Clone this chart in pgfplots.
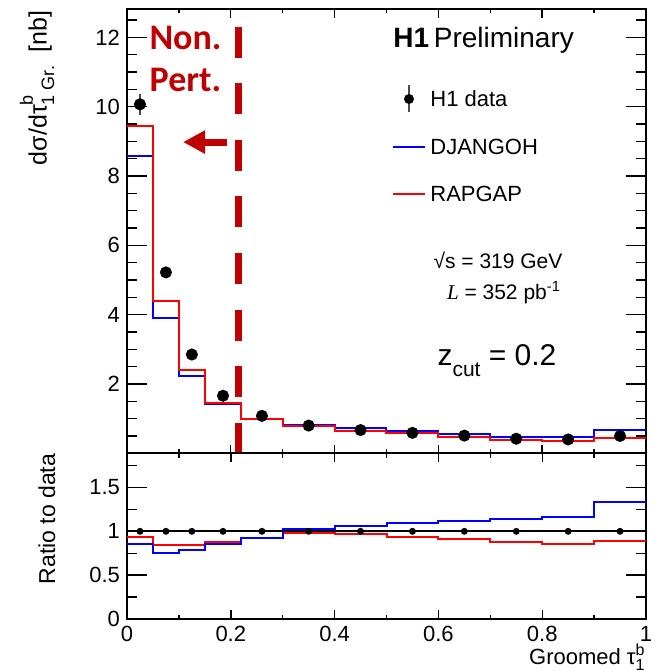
\documentclass[border=0pt]{standalone}
\usepackage{pgfplots}
\pgfplotsset{compat=1.18}
\usetikzlibrary{arrows.meta}
\usepackage{fontspec}
\setmainfont{Liberation Sans}
\newfontfamily\calibri{Carlito}
\newfontfamily\timesf{Liberation Serif}
\definecolor{npred}{RGB}{192,0,0}

% bin edges 0,0.05,0.1,0.15,0.22,0.3,0.4,...,1.0 (last value repeated at x=1)
\pgfplotstableread{
x     dj     rg
0     8.58   9.43
0.05  3.90   4.40
0.10  2.24   2.41
0.15  1.41   1.46
0.22  0.99   0.99
0.30  0.83   0.78
0.40  0.72   0.65
0.50  0.64   0.58
0.60  0.57   0.47
0.70  0.48   0.37
0.80  0.46   0.345
0.90  0.67   0.445
1.00  0.67   0.445
}\mcxs
\pgfplotstableread{
x     dj     rg
0     0.85   0.935
0.05  0.75   0.84
0.10  0.79   0.845
0.15  0.85   0.875
0.22  0.92   0.92
0.30  1.03   0.98
0.40  1.06   0.975
0.50  1.10   0.94
0.60  1.12   0.91
0.70  1.14   0.88
0.80  1.16   0.855
0.90  1.33   0.89
1.00  1.33   0.89
}\ratio
\pgfplotstableread{
x      y      e
0.025  10.07  0.30
0.075  5.22   0.12
0.125  2.85   0.07
0.185  1.66   0.05
0.26   1.08   0.04
0.35   0.80   0.03
0.45   0.67   0.03
0.55   0.59   0.03
0.65   0.51   0.03
0.75   0.42   0.03
0.85   0.40   0.03
0.95   0.50   0.03
}\data

\begin{document}
\begin{tikzpicture}
\path[use as bounding box] (0pt,0pt) rectangle (330.5pt,335.5pt);
\pgfplotsset{
  h1/.style={
    scale only axis, width=259.5pt, xmin=0, xmax=1,
    anchor=south west,
    axis line style={line width=0.8pt},
    tick style={black, line width=0.7pt},
    major tick length=10pt, minor tick length=5pt,
    xtick={0,0.2,0.4,0.6,0.8,1}, minor xtick={0.1,0.3,0.5,0.7,0.9},
    xtick style={/pgfplots/major tick length=4.3pt,/pgfplots/minor tick length=2.2pt},
    tick label style={font=\fontsize{11}{12}\selectfont},
    /pgf/number format/assume math mode=true,
    every axis plot/.append style={line width=1pt},
  }
}
% upper panel
\begin{axis}[h1,
  at={(63.5pt,108.85pt)}, height=222.15pt,
  ymin=0, ymax=12.82,
  ytick={2,4,6,8,10,12}, minor ytick={0.5,1,...,12.5},
  xticklabels={},
]
\addplot[const plot, blue] table[x=x,y=dj]{\mcxs};
\addplot[const plot, red] table[x=x,y=rg]{\mcxs};
\addplot[only marks, mark=*, mark size=2.5pt, black,
  error bars/.cd, y dir=both, y explicit, error mark=none,
  error bar style={line width=0.6pt, black!70}]
  table[x=x,y=y,y error=e]{\data};
\addplot[npred, line width=3.3pt, dash pattern=on 15.5pt off 12.8pt]
  coordinates {(0.2145,12.31) (0.2145,0)};
\draw[npred, line width=3.5pt, -{Triangle[length=11pt,width=11pt]}]
  (axis cs:0.193,8.98) -- (axis cs:0.108,8.98);
\end{axis}
% ratio panel
\begin{axis}[h1,
  at={(63.5pt,26pt)}, height=82.85pt,
  ymin=0, ymax=1.89,
  ytick={0,0.5,1,1.5}, minor ytick={0.25,0.75,1.25,1.75},
  xticklabels={0,0.2,0.4,0.6,0.8,1},
]
\addplot[const plot, red] table[x=x,y=rg]{\ratio};
\addplot[const plot, blue] table[x=x,y=dj]{\ratio};
\addplot[black, line width=1.1pt] coordinates {(0,1) (1,1)};
\addplot[only marks, mark=*, mark size=1.2pt, black,
  error bars/.cd, y dir=both, y explicit, error mark=none,
  error bar style={line width=0.6pt, black}]
  coordinates {(0.025,1)+-(0,0.03) (0.075,1)+-(0,0.03) (0.125,1)+-(0,0.03)
  (0.185,1)+-(0,0.03) (0.26,1)+-(0,0.03) (0.35,1)+-(0,0.03) (0.45,1)+-(0,0.03)
  (0.55,1)+-(0,0.03) (0.65,1)+-(0,0.03) (0.75,1)+-(0,0.03) (0.85,1)+-(0,0.03)
  (0.95,1)+-(0,0.03)};
\end{axis}

% texts
\node[rotate=90, anchor=base east, font=\fontsize{12.5}{14}\selectfont, inner sep=0pt]
  at (23.3pt,330.5pt)
  {dσ/dτ\makebox[0pt][l]{\raisebox{0.55em}{\fontsize{9}{10}\selectfont b}}\raisebox{-0.3em}{\fontsize{9}{10}\selectfont 1 Gr.}\ \ [nb]};
\node[rotate=90, anchor=base, font=\fontsize{11.5}{13}\selectfont, inner sep=0pt]
  at (27.5pt,76pt) {Ratio to data};
\node[anchor=base east, font=\fontsize{11}{13}\selectfont, inner sep=0pt]
  at (322.5pt,3pt)
  {Groomed τ\makebox[0pt][l]{\raisebox{0.42em}{\fontsize{8}{9}\selectfont b}}\raisebox{-0.25em}{\fontsize{8}{9}\selectfont 1}};

\node[font=\calibri\bfseries\fontsize{18}{20}\selectfont, text=npred, inner sep=0pt]
  at (92.75pt,316.5pt) {Non.};
\node[font=\calibri\bfseries\fontsize{18}{20}\selectfont, text=npred, inner sep=0pt]
  at (92.75pt,295.5pt) {Pert.};

\node[anchor=west, font=\fontsize{14}{16}\selectfont, inner sep=0pt]
  at (196.5pt,315.5pt) {\textbf{H1}\,Preliminary};

\draw[black!70, line width=0.6pt] (204.5pt,279.25pt) -- (204.5pt,292.75pt);
\fill[black] (204.5pt,286pt) circle (2.5pt);
\node[anchor=west, font=\fontsize{11}{13}\selectfont, inner sep=0pt] at (215pt,286pt) {H1 data};
\draw[blue, line width=1pt] (196.5pt,262.2pt) -- (212.5pt,262.2pt);
\node[anchor=west, font=\fontsize{11}{13}\selectfont, inner sep=0pt] at (215pt,262.2pt) {DJANGOH};
\draw[red, line width=1pt] (196.5pt,238.5pt) -- (212.5pt,238.5pt);
\node[anchor=west, font=\fontsize{11}{13}\selectfont, inner sep=0pt] at (215pt,238.5pt) {RAPGAP};

\node[font=\fontsize{10.5}{12}\selectfont, inner sep=0pt] at (249pt,205.5pt) {√s = 319 GeV};
\node[font=\fontsize{10.5}{12}\selectfont, inner sep=0pt] at (252pt,189pt)
  {{\timesf\itshape L} = 352 pb\textsuperscript{-1}};
\node[anchor=base, font=\fontsize{15}{17}\selectfont, inner sep=0pt] at (248.5pt,152.6pt)
  {z\raisebox{-0.35em}{\fontsize{10.5}{12}\selectfont cut} = 0.2};
\end{tikzpicture}
\end{document}
